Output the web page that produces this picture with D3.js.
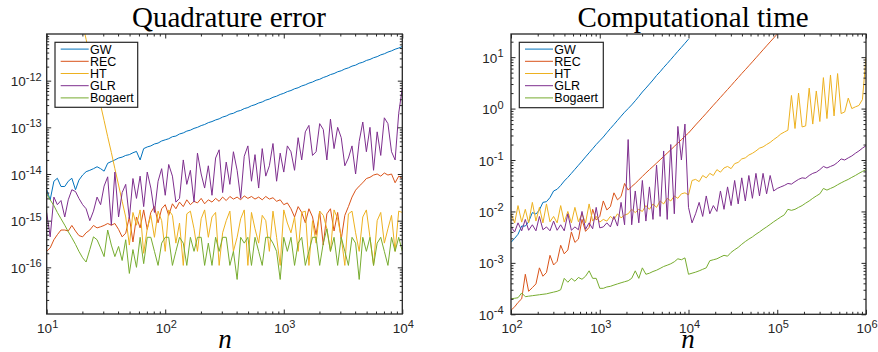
<!DOCTYPE html>
<html><head><meta charset="utf-8">
<script src="https://cdn.jsdelivr.net/npm/d3@7"></script>
<style>body{margin:0;background:#fff} svg{display:block}</style>
</head><body><svg id="c" width="878" height="352"></svg>
<script>
const seriesNames = ["GW","REC","HT","GLR","Bogaert"];
const seriesColors = ["#0072BD","#D95319","#EDB120","#7E2F8E","#77AC30"];

// ---- Left panel: quadrature error vs n ----
const nLeft = [
10,10.7,11.5,12.3,13.2,14.2,15.2,16.3,17.5,18.7,
20.1,21.5,23.1,24.8,26.6,28.5,30.5,32.7,35.1,37.6,
40.4,43.3,46.4,49.8,53.4,57.2,61.4,65.8,70.5,75.6,
81.1,87,93.3,100,107,115,123,132,142,152,
163,175,187,201,215,231,248,266,285,305,
327,351,376,404,433,464,498,534,572,614,
658,705,756,811,870,933,1000,1072,1150,1233,
1322,1417,1520,1630,1748,1874,2009,2154,2310,2477,
2656,2848,3054,3275,3511,3765,4037,4329,4642,4977,
5337,5722,6136,6579,7055,7565,8111,8697,9326,10000];

const errGW = [
4.6e-15,2.8e-15,7e-15,8.1e-15,5.4e-15,5.4e-15,7e-15,8.1e-15,4.6e-15,7.4e-15,
9.5e-15,1.12e-14,1.2e-14,1.3e-14,1.43e-14,1.3e-14,1.15e-14,1.7e-14,1.85e-14,2.0e-14,
2.2e-14,2.3e-14,2.5e-14,2.6e-14,2.85e-14,3.05e-14,2e-14,3.5e-14,3.8e-14,4.0e-14,
4.4e-14,4.6e-14,5.1e-14,5.4e-14,5.7e-14,6.3e-14,6.5e-14,7.2e-14,7.6e-14,8.3e-14,
8.7e-14,9.5e-14,1.0e-13,1.09e-13,1.15e-13,1.26e-13,1.33e-13,1.44e-13,1.52e-13,1.66e-13,
1.75e-13,1.92e-13,2.0e-13,2.2e-13,2.3e-13,2.52e-13,2.65e-13,2.9e-13,3.05e-13,3.32e-13,
3.5e-13,3.83e-13,4.03e-13,4.4e-13,4.65e-13,5.06e-13,5.35e-13,5.83e-13,6.15e-13,6.7e-13,
7.05e-13,7.7e-13,8.15e-13,8.85e-13,9.35e-13,1.02e-12,1.07e-12,1.17e-12,1.24e-12,1.35e-12,
1.42e-12,1.55e-12,1.63e-12,1.78e-12,1.88e-12,2.05e-12,2.15e-12,2.36e-12,2.48e-12,2.71e-12,
2.85e-12,3.1e-12,3.27e-12,3.57e-12,3.77e-12,4.1e-12,4.35e-12,4.72e-12,5.0e-12,5.4e-12];

const errREC = [
2.2e-16,2.6e-16,3.9e-16,5e-16,6.3e-16,6.3e-16,6e-16,7.9e-16,6e-16,4.8e-16,
4.5e-16,5.5e-16,6.3e-16,7.9e-16,7e-16,7.4e-16,7.9e-16,8.7e-16,8e-16,8.7e-16,
6.5e-16,4.5e-16,5.4e-16,1.2e-15,3.5e-16,1.2e-15,7e-16,1.7e-15,6.5e-16,1.5e-15,
2e-15,9e-16,1.8e-15,2.2e-15,1.3e-15,2.3e-15,1.8e-15,2.5e-15,2e-15,2.8e-15,
2.2e-15,2.6e-15,2.4e-15,3e-15,2.3e-15,2.8e-15,2.5e-15,3e-15,2.6e-15,3.2e-15,
2.7e-15,3.3e-15,2.9e-15,3.2e-15,2.8e-15,3.4e-15,3e-15,3.3e-15,2.9e-15,3.2e-15,
2.8e-15,3.3e-15,2.9e-15,3.1e-15,2.6e-15,2.8e-15,2.2e-15,2.4e-15,1.8e-15,1.2e-15,
2e-15,1.5e-15,9e-16,1.8e-15,1.2e-15,5e-16,1.6e-15,3e-16,1.4e-15,1.8e-15,
6e-16,1.5e-15,4e-16,1.3e-15,2e-15,3.2e-15,4.5e-15,5.5e-15,6.5e-15,8e-15,
8.5e-15,9.5e-15,1e-14,9e-15,1.05e-14,9.5e-15,1e-14,6.5e-15,9e-15,8e-15];

const errHT = [
4.7e-8,2.2e-8,9.5e-9,4.4e-9,1.95e-9,8.7e-10,4e-10,1.8e-10,8e-11,3.7e-11,
1.65e-11,7.7e-12,3.3e-12,1.5e-12,6.7e-13,3e-13,1.4e-13,6.3e-14,2.9e-14,1.3e-14,
5.8e-15,2.6e-15,1.2e-15,3e-16,1.5e-15,8e-16,1.7e-15,2e-16,6.7e-16,1.3e-15,
4.4e-16,1.6e-15,1e-15,2.2e-16,1.7e-15,1.3e-15,3.3e-16,8.9e-16,1.1e-16,1.4e-15,
1.6e-15,6.7e-16,2.2e-16,1.1e-15,1.7e-15,4.4e-16,1.2e-15,1.5e-15,1.1e-16,5.5e-16,
1e-15,1.6e-15,2.2e-16,4.4e-16,1.1e-15,1.7e-15,1.1e-16,1.5e-15,6.7e-16,3.3e-16,
1.3e-15,1e-15,2.2e-16,1.6e-15,4.4e-16,1.1e-16,1.7e-15,8.9e-16,5.5e-16,1.2e-15,
2.2e-16,1.5e-15,1.6e-15,1.1e-16,1e-15,3.3e-16,1.6e-15,1.3e-15,6.7e-16,2.2e-16,
1.7e-15,1.1e-15,4.4e-16,1.1e-16,1.4e-15,1.6e-15,5.5e-16,2.2e-16,1.2e-15,1.7e-15,
4.4e-16,1.1e-16,1e-15,1.5e-15,3.3e-16,6.7e-16,1.3e-15,2.2e-16,1.6e-15,1.5e-15];

const errGLR = [
1.5e-15,4.5e-16,3.2e-15,2.2e-15,2.7e-15,1.2e-15,2.8e-15,4.6e-15,4.2e-15,3e-15,
2.2e-15,1.8e-15,1e-15,1.6e-15,3.2e-15,2.2e-15,5.5e-15,8.7e-15,8e-16,1.1e-14,
1.2e-15,4e-15,6e-15,1.1e-15,8e-15,3e-15,9e-15,2e-15,1.1e-14,5e-15,
1.5e-15,7e-15,1.3e-14,3.5e-15,1.6e-14,9e-15,2.5e-15,3e-15,2e-14,6e-15,
1.2e-14,2.5e-15,2.8e-14,1e-14,5e-15,1.5e-14,3.5e-15,2.2e-14,3.3e-14,4e-15,
1.8e-14,6e-15,3e-14,1.2e-14,3e-15,2.4e-14,4e-14,7e-15,2.6e-14,5e-15,
3.5e-14,9e-15,1.5e-14,4.5e-14,7e-15,2.8e-14,1.1e-14,4e-14,3e-14,1.2e-14,
6e-14,2e-14,8e-14,1.1e-13,2.5e-14,3e-14,1.2e-13,9e-14,2e-14,1.5e-13,
3.5e-14,1e-13,6e-14,1.5e-14,2.2e-14,4e-14,1e-14,5e-14,1.3e-13,3e-14,
1e-13,1.2e-14,8e-14,2.5e-14,1.6e-13,1.2e-13,3e-14,2e-14,2e-13,7e-13];

const errBog = [
3.8e-15,2.8e-15,2.1e-15,1.5e-15,1.1e-15,8e-16,5.8e-16,4.3e-16,3.1e-16,2.2e-16,
1.6e-16,1.3e-16,2.4e-16,4.5e-16,3.9e-16,2.6e-16,1.7e-16,6.3e-16,3e-16,1.7e-16,
2.8e-16,1.4e-16,3.9e-16,7.4e-17,2.4e-16,1e-16,4.4e-16,1.2e-16,4.4e-16,4.4e-16,
2.2e-16,1.1e-16,3.3e-16,4.4e-16,4.4e-16,1.1e-16,2.2e-16,4.4e-16,3.3e-16,1.1e-16,
4.4e-16,2.2e-16,4.4e-16,4.4e-16,1.1e-16,3.3e-16,1.1e-16,4.4e-16,2.2e-16,4.4e-16,
4.4e-16,1.1e-16,2.2e-16,5.5e-17,4.4e-16,3.3e-16,4.4e-16,1.1e-16,4.4e-16,2.2e-16,
1.1e-16,4.4e-16,4.4e-16,3.3e-16,2.2e-16,5.5e-17,4.4e-16,2.2e-16,4.4e-16,1.1e-16,
3.3e-16,4.4e-16,1.1e-16,2.2e-16,4.4e-16,4.4e-16,1.1e-16,3.3e-16,6.7e-16,2.2e-16,
4.4e-16,1.1e-16,4.4e-16,2.2e-16,1.1e-16,4.4e-16,3.3e-16,5.5e-17,4.4e-16,2.2e-16,
4.4e-16,1.1e-16,3.3e-16,4.4e-16,2.2e-16,1.1e-16,4.4e-16,2.2e-16,4.4e-16,2.2e-16];

// ---- Right panel: computational time vs n ----
const nRight = [
100,110,120,132,145,158,174,191,209,229,
251,275,302,331,363,398,437,479,525,575,
631,692,759,832,912,1000,1096,1202,1318,1445,
1585,1738,1905,2089,2291,2512,2754,3020,3311,3631,
3981,4365,4786,5248,5754,6310,6918,7586,8318,9120,
10000,10960,12020,13180,14450,15850,17380,19050,20890,22910,
25120,27540,30200,33110,36310,39810,43650,47860,52480,57540,
63100,69180,75860,83180,91200,100000,109600,120200,131800,144500,
158500,173800,190500,208900,229100,251200,275400,302000,331100,363100,
398100,436500,478600,524800,575400,631000,691800,758600,831800,912000,
1000000];

const timeGW = [
2.5e-3,3.0e-3,3.6e-3,5.2e-3,5.2e-3,6.3e-3,9.5e-3,8.9e-3,1.07e-2,1.5e-2,
1.55e-2,1.86e-2,2.5e-2,2.7e-2,3.2e-2,3.9e-2,4.6e-2,5.5e-2,6.6e-2,7.9e-2,
9.5e-2,0.115,0.138,0.166,0.2,0.237,0.28,0.34,0.41,0.49,
0.59,0.71,0.85,1.0,1.18,1.42,1.72,2.1,2.5,3.0,
3.6,4.4,5.2,6.3,7.5,9.0,10.8,13,15.5,18.6,
22.4];

const timeREC = [
1.2e-4,1.4e-4,1.7e-4,2.0e-4,6e-4,2.8e-4,3.3e-4,3.9e-4,8e-4,5.5e-4,
6.5e-4,1.4e-3,9.1e-4,1.07e-3,2.2e-3,1.5e-3,1.78e-3,4e-3,2.5e-3,2.9e-3,
7e-3,4.1e-3,4.9e-3,1.1e-2,6.8e-3,8e-3,1.6e-2,1.07e-2,1.24e-2,2.3e-2,
1.68e-2,1.95e-2,3.5e-2,2.6e-2,3.05e-2,3.5e-2,4.1e-2,4.8e-2,5.6e-2,6.5e-2,
7.5e-2,8.7e-2,0.101,0.117,0.136,0.158,0.184,0.214,0.248,0.29,
0.335,0.4,0.48,0.57,0.68,0.81,0.97,1.16,1.38,1.65,
1.97,2.35,2.8,3.36,4.0,4.8,5.7,6.8,8.1,9.7,
11.6,13.9,16.6,19.8,23.6,28.2,33.6];

const timeHT = [
9e-3,6e-3,1.3e-2,6.2e-3,1.1e-2,6e-3,1.5e-2,6.5e-3,1.2e-2,6e-3,
1.4e-2,6.3e-3,8e-3,6e-3,1.3e-2,6.2e-3,1e-2,6e-3,1.2e-2,6.3e-3,
9e-3,6e-3,1.4e-2,6.5e-3,8e-3,6.2e-3,7e-3,6.5e-3,8e-3,7e-3,
9e-3,7.5e-3,8.5e-3,9e-3,1.1e-2,9.5e-3,1.1e-2,1e-2,1.3e-2,1.1e-2,
1.4e-2,1.2e-2,1.6e-2,1.4e-2,1.8e-2,1.6e-2,2e-2,1.8e-2,2.2e-2,2.3e-2,
2.1e-2,4e-2,4.2e-2,3.8e-2,5e-2,4.5e-2,5.5e-2,5e-2,6.5e-2,5.8e-2,
7e-2,7.5e-2,6.8e-2,8.5e-2,9e-2,0.105,0.11,0.125,0.135,0.15,
0.17,0.18,0.2,0.22,0.25,0.28,0.32,0.35,0.38,1.8,
0.41,2.0,0.44,0.46,2.5,0.5,2.2,0.56,4.0,0.64,
4.5,0.72,4.8,0.8,0.86,1.6,1.0,1.08,1.15,1.5,
10];

const timeGLR = [
5e-3,4e-3,6e-3,4.2e-3,7e-3,4.3e-3,5.5e-3,4.2e-3,8e-3,4.4e-3,
5e-3,4.2e-3,6.5e-3,4.3e-3,5.5e-3,4.2e-3,9e-3,4.3e-3,5e-3,4.4e-3,
1e-2,4.5e-3,6e-3,4.6e-3,1.2e-2,4.8e-3,5e-3,6e-3,5e-3,8e-3,
5.2e-3,1.5e-2,5.5e-3,0.25,5.5e-3,2.5e-2,6e-3,4e-2,6.5e-3,3e-2,
7e-3,8e-2,8e-3,0.15,7e-3,0.2,9e-3,0.45,0.1,0.5,
1.2e-2,6e-3,9e-3,1.5e-2,8e-3,2e-2,9e-3,1.3e-2,1e-2,2.5e-2,
1.1e-2,3e-2,1.3e-2,4e-2,1.4e-2,4.5e-2,1.6e-2,5e-2,1.8e-2,5.5e-2,
2e-2,5.5e-2,2.2e-2,5e-2,2.5e-2,2.8e-2,3e-2,3.2e-2,3.5e-2,3.4e-2,
3.8e-2,4.2e-2,4.5e-2,4.4e-2,5e-2,5.5e-2,5.8e-2,6.5e-2,7.5e-2,7e-2,
7.5e-2,8e-2,9e-2,0.105,0.1,0.11,0.12,0.135,0.15,0.17,
0.19];

const timeBog = [
2e-4,2.05e-4,2.1e-4,2.6e-4,2.2e-4,2.25e-4,2.3e-4,2.35e-4,2.4e-4,2.45e-4,
2.5e-4,2.6e-4,2.7e-4,2.8e-4,3e-4,5e-4,4.2e-4,5e-4,4.4e-4,5.2e-4,
4.8e-4,5.5e-4,7e-4,5e-4,5e-4,3.2e-4,3.2e-4,3.4e-4,3.5e-4,3.7e-4,
3.9e-4,4.1e-4,4.3e-4,4.5e-4,5e-4,7e-4,5e-4,8e-4,6e-4,6.3e-4,
6.8e-4,7.2e-4,7.8e-4,8.5e-4,9e-4,9.6e-4,1.05e-3,1.2e-3,1.15e-3,1.25e-3,
6e-4,6.3e-4,6.6e-4,7e-4,7.5e-4,8e-4,1.1e-3,1.15e-3,1.2e-3,1.3e-3,
1.4e-3,1.35e-3,1.6e-3,1.8e-3,2e-3,2.3e-3,2.6e-3,2.9e-3,3.2e-3,3.6e-3,
4e-3,4.5e-3,5e-3,5.6e-3,6.3e-3,7e-3,7.8e-3,8.6e-3,1.1e-2,1.05e-2,
1.1e-2,1.2e-2,1.3e-2,1.45e-2,1.6e-2,1.8e-2,2e-2,2.2e-2,2.8e-2,2.6e-2,
2.8e-2,3e-2,3.3e-2,3.6e-2,3.9e-2,4.2e-2,4.6e-2,5e-2,5.5e-2,6e-2,
6.5e-2];

const leftXTickExps = [1,2,3,4];
const leftYTickExps = [-16,-15,-14,-13,-12];
const rightXTickExps = [2,3,4,5,6];
const rightYTickExps = [-4,-3,-2,-1,0,1];

const AX = "#262626";
const svg = d3.select("#c");
const defs = svg.append("defs");

function minorTicks(dom){
  const lo = Math.floor(Math.log10(dom[0])), hi = Math.ceil(Math.log10(dom[1]));
  const out = [];
  for (let e = lo; e <= hi; e++) for (let m = 2; m <= 9; m++) {
    const v = m * Math.pow(10, e);
    if (v > dom[0] && v < dom[1]) out.push(v);
  }
  return out;
}
function majorTicks(exps){ return exps.map(e => Math.pow(10, e)); }

function expLabel(t, e){
  t.append("tspan").text("10");
  t.append("tspan").attr("dy", -5.5).attr("font-size", 11).text(e < 0 ? "-" + (-e) : String(e));
}

function panel(o){
  const x = d3.scaleLog().domain(o.xDom).range([o.left, o.right]);
  const y = d3.scaleLog().domain(o.yDom).range([o.bottom, o.top]);
  const g = svg.append("g");
  defs.append("clipPath").attr("id", "clip" + o.id).append("rect")
    .attr("x", o.left).attr("y", o.top).attr("width", o.right - o.left).attr("height", o.bottom - o.top);
  const lines = g.append("g").attr("clip-path", `url(#clip${o.id})`);
  o.series.forEach((vals, i) => {
    const line = d3.line().x((d, j) => x(o.n[j])).y(d => y(d));
    lines.append("path").attr("d", line(vals)).attr("fill", "none")
      .attr("stroke", seriesColors[i]).attr("stroke-width", 1).attr("stroke-linejoin", "round");
  });

  const mk = (axisFn, scale, vals, size, tx, ty) => {
    const a = g.append("g").attr("transform", `translate(${tx},${ty})`)
      .call(axisFn(scale).tickValues(vals).tickSize(size).tickSizeOuter(0).tickFormat(""));
    a.select(".domain").remove();
    a.selectAll("line").attr("stroke", AX).attr("stroke-width", 1);
  };
  const xMaj = majorTicks(o.xExps), yMaj = majorTicks(o.yExps);
  const xMin = minorTicks(o.xDom), yMin = minorTicks(o.yDom);
  mk(d3.axisBottom, x, xMaj, -4.5, 0, o.bottom);
  mk(d3.axisBottom, x, xMin, -2.5, 0, o.bottom);
  mk(d3.axisTop, x, xMaj, -4.5, 0, o.top);
  mk(d3.axisTop, x, xMin, -2.5, 0, o.top);
  mk(d3.axisLeft, y, yMaj, -4.5, o.left, 0);
  mk(d3.axisLeft, y, yMin, -2.5, o.left, 0);
  mk(d3.axisRight, y, yMaj, -4.5, o.right, 0);
  mk(d3.axisRight, y, yMin, -2.5, o.right, 0);

  g.append("rect").attr("x", o.left).attr("y", o.top)
    .attr("width", o.right - o.left).attr("height", o.bottom - o.top)
    .attr("fill", "none").attr("stroke", AX).attr("stroke-width", 1.3);

  const lab = g.append("g").attr("font-family", "'Liberation Sans', Arial, sans-serif")
    .attr("font-size", 13.5).attr("fill", AX);
  o.xExps.forEach(e => {
    const t = lab.append("text").attr("x", x(Math.pow(10, e)) + 1).attr("y", o.bottom + 19)
      .attr("text-anchor", "middle");
    expLabel(t, e);
  });
  o.yExps.forEach(e => {
    const t = lab.append("text").attr("x", o.left - o.yGap).attr("y", y(Math.pow(10, e)) + 5.5)
      .attr("text-anchor", "end");
    expLabel(t, e);
  });

  g.append("text").attr("x", o.titleX).attr("y", 27).attr("text-anchor", "middle")
    .attr("font-family", "'Liberation Serif', 'Times New Roman', serif").attr("font-size", 29)
    .attr("fill", "#000").text(o.title);
  g.append("text").attr("x", o.labelX).attr("y", 348).attr("text-anchor", "middle")
    .attr("font-family", "'Liberation Serif', 'Times New Roman', serif").attr("font-style", "italic")
    .attr("font-size", 27).attr("fill", "#000").text("n");

  const L = o.legend;
  const lg = g.append("g");
  lg.append("rect").attr("x", L.x).attr("y", L.y).attr("width", L.w).attr("height", L.h)
    .attr("fill", "#fff").attr("stroke", AX).attr("stroke-width", 1.2);
  seriesNames.forEach((name, i) => {
    const yy = L.y + 6.8 + i * 12.2;
    lg.append("line").attr("x1", L.x + 5.7).attr("x2", L.x + 33.7).attr("y1", yy).attr("y2", yy)
      .attr("stroke", seriesColors[i]).attr("stroke-width", 1);
    lg.append("text").attr("x", L.x + 35).attr("y", yy + 4.4)
      .attr("font-family", "'Liberation Sans', Arial, sans-serif").attr("font-size", 12.5)
      .attr("fill", "#000").text(name);
  });
}

panel({
  id: "L", left: 46.7, right: 402.3, top: 34, bottom: 314, yGap: 5,
  xDom: [10, 1e4], yDom: [1e-17, 1e-11], n: nLeft,
  series: [errGW, errREC, errHT, errGLR, errBog],
  xExps: leftXTickExps, yExps: leftYTickExps,
  title: "Quadrature error", titleX: 229, labelX: 225,
  legend: {x: 55, y: 42.3, w: 82.7, h: 65}
});
panel({
  id: "R", left: 511, right: 866, top: 34, bottom: 314.3, yGap: 7.5,
  xDom: [100, 1e6], yDom: [1e-4, 28.2], n: nRight,
  series: [timeGW, timeREC, timeHT, timeGLR, timeBog],
  xExps: rightXTickExps, yExps: rightYTickExps,
  title: "Computational time", titleX: 693, labelX: 688,
  legend: {x: 519.3, y: 42.3, w: 84, h: 65.4}
});
</script></body></html>
